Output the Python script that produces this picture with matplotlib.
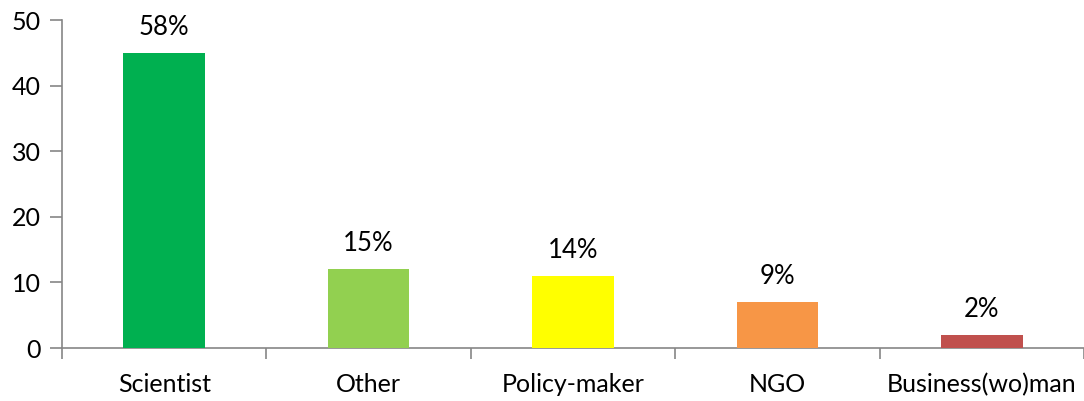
import matplotlib
matplotlib.use("Agg")
import matplotlib.pyplot as plt
import numpy as np

categories = ['Scientist', 'Other', 'Policy-maker', 'NGO', 'Business(wo)man']
counts = [45, 12, 11, 7, 2]
pct_labels = ['58%', '15%', '14%', '9%', '2%']
colors = ['#00B050', '#92D050', '#FFFF00', '#F79646', '#C0504D']

plt.rcParams['font.family'] = ['Lato', 'DejaVu Sans']
plt.rcParams['font.size'] = 18

fig = plt.figure(figsize=(10.84, 4.01), dpi=100)
ax = fig.add_axes([62 / 1084, 53 / 401, 1 - 62 / 1084, (348 - 20) / 401])

x = np.arange(len(categories))
ax.bar(x, counts, width=0.4, color=colors, zorder=3)
for xi, v, lab in zip(x, counts, pct_labels):
    ax.text(xi, v + 2.0, lab, ha='center', va='bottom', fontsize=18.5)

ax.set_xlim(-0.5, len(categories) - 0.5)
ax.set_ylim(0, 50)
ax.set_yticks(np.arange(0, 51, 10))

# category names at centres, tick marks between categories
ax.set_xticks(x)
ax.set_xticklabels(categories)
ax.tick_params(axis='x', which='major', length=0, pad=18)
ax.set_xticks(np.arange(-0.5, len(categories), 1), minor=True)
ax.tick_params(axis='x', which='minor', length=8, color='#868686', width=1.2)
ax.tick_params(axis='y', length=9, color='#868686', width=1.2, pad=6)

for s in ['top', 'right']:
    ax.spines[s].set_visible(False)
for s in ['left', 'bottom']:
    ax.spines[s].set_color('#868686')
    ax.spines[s].set_linewidth(1.2)

fig.savefig('out.png', dpi=100)
